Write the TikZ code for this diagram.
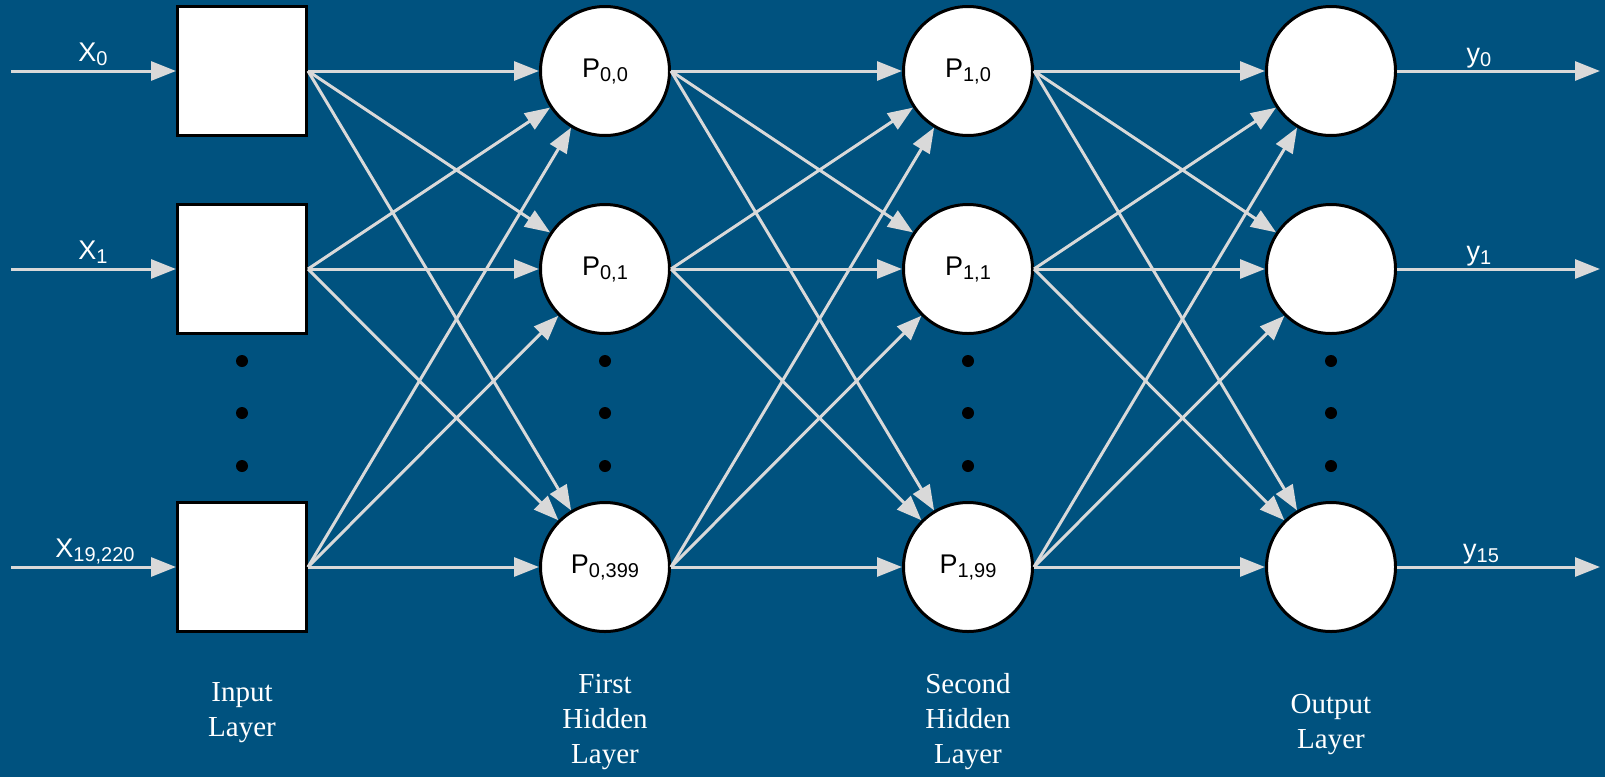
\documentclass[tikz,border=0pt]{standalone}
\usepackage{fontspec}
\usepackage{graphicx}
\setmainfont{Liberation Serif}
\newfontfamily\labelsans{Liberation Sans}
\usetikzlibrary{arrows.meta}

\definecolor{netbg}{RGB}{0,82,127}
\definecolor{wire}{RGB}{217,217,217}

% letter with a lowered index
\newcommand\idxlabel[2]{#1\raisebox{-4pt}{\fontsize{20}{20}\selectfont #2}}

\tikzset{
  inbox/.style={draw=black, fill=white, line width=3pt, minimum size=129pt, inner sep=0pt},
  neuron/.style={circle, draw=black, fill=white, line width=3pt, minimum size=129pt, inner sep=0pt,
                 font=\labelsans\fontsize{27}{27}\selectfont, text=black},
  wire/.style={draw=wire, line width=3pt, -{Triangle[length=25pt,width=19pt]}},
  iolabel/.style={anchor=base, inner sep=0pt, text=white, font=\labelsans\fontsize{27}{27}\selectfont},
  vdot/.style={circle, fill=black, minimum size=12pt, inner sep=0pt},
  layerlabel/.style={text=white, align=center, inner sep=0pt, font=\fontsize{29}{35}\selectfont}
}

\begin{document}
\begin{tikzpicture}[x=1pt, y=-1pt]
  \fill[netbg] (0,0) rectangle (1605,777);
  \useasboundingbox (0,0) rectangle (1605,777);

  % input layer
  \node[inbox] (i0) at (242,71)  {};
  \node[inbox] (i1) at (242,269) {};
  \node[inbox] (i2) at (242,567) {};

  % first hidden layer
  \node[neuron] (h0) at (605,71)  {\idxlabel{P}{0,0}};
  \node[neuron] (h1) at (605,269) {\idxlabel{P}{0,1}};
  \node[neuron] (h2) at (605,567) {\idxlabel{P}{0,399}};

  % second hidden layer
  \node[neuron] (g0) at (968,71)  {\idxlabel{P}{1,0}};
  \node[neuron] (g1) at (968,269) {\idxlabel{P}{1,1}};
  \node[neuron] (g2) at (968,567) {\idxlabel{P}{1,99}};

  % output layer
  \node[neuron] (o0) at (1331,71)  {};
  \node[neuron] (o1) at (1331,269) {};
  \node[neuron] (o2) at (1331,567) {};

  % ellipsis dots between the second and last unit of each layer
  \foreach \x/\n in {242/a, 605/b, 968/c, 1331/d} {
    \node[vdot] (\n1) at (\x,361) {};
    \node[vdot] (\n2) at (\x,413) {};
    \node[vdot] (\n3) at (\x,466) {};
  }

  % inputs and outputs
  \coordinate (s0) at (11,71);
  \coordinate (s1) at (11,269);
  \coordinate (s2) at (11,567);
  \coordinate (e0) at (1600,71);
  \coordinate (e1) at (1600,269);
  \coordinate (e2) at (1600,567);
  \foreach \k in {0,1,2} {
    \draw[wire] (s\k) -- (i\k);
    \draw[wire] (o\k.east) -- (e\k);
  }

  \node[iolabel] (x0) at (93,61)  {\idxlabel{X}{0}};
  \node[iolabel] (x1) at (93,259) {\idxlabel{X}{1}};
  \node[iolabel] (x2) at (95,557) {\idxlabel{X}{19,220}};
  \node[iolabel] (y0) at (1479,62)  {\idxlabel{y}{0}};
  \node[iolabel] (y1) at (1479,260) {\idxlabel{y}{1}};
  \node[iolabel] (y2) at (1481,558) {\idxlabel{y}{15}};

  % fully connected layers
  \foreach \a in {i0,i1,i2}
    \foreach \b in {h0,h1,h2}
      \draw[wire] (\a.east) -- (\b);
  \foreach \a in {h0,h1,h2}
    \foreach \b in {g0,g1,g2}
      \draw[wire] (\a.east) -- (\b);
  \foreach \a in {g0,g1,g2}
    \foreach \b in {o0,o1,o2}
      \draw[wire] (\a.east) -- (\b);

  % layer captions
  \node[layerlabel] (l0) at (242,713)  {Input\\Layer};
  \node[layerlabel] (l1) at (605,722)  {First\\Hidden\\Layer};
  \node[layerlabel] (l2) at (968,722)  {Second\\Hidden\\Layer};
  \node[layerlabel] (l3) at (1331,725) {Output\\Layer};
\end{tikzpicture}
\end{document}
